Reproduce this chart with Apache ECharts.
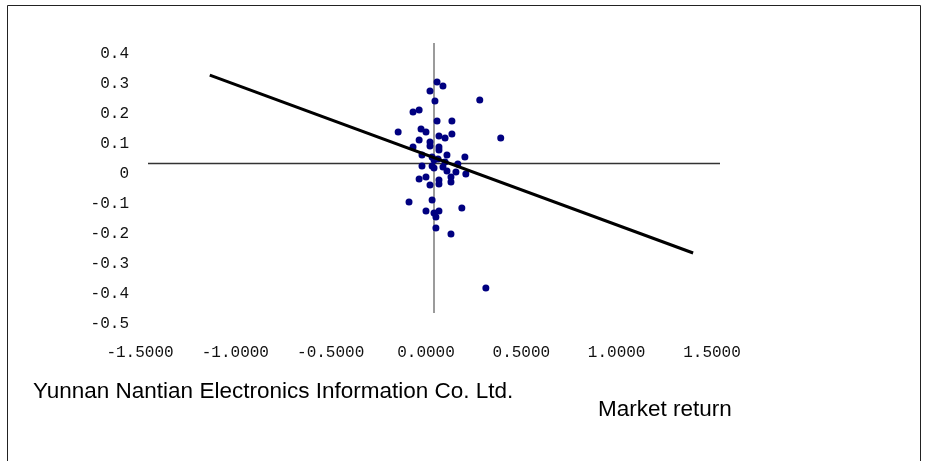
<!DOCTYPE html>
<html>
<head>
<meta charset="utf-8">
<script src="https://cdn.jsdelivr.net/npm/echarts@6/dist/echarts.min.js"></script>
<style>html,body{margin:0;padding:0;background:#fff}#c{width:934px;height:461px}</style>
</head>
<body>
<div id="c"></div>
<script>
// Scatter: market return (x) vs stock return (y)
const marketReturn = [0.016,0.047,-0.021,0.005,0.240,-0.110,-0.078,0.016,0.094,-0.188,-0.068,-0.042,0.094,0.026,0.058,0.350,-0.078,-0.021,-0.021,0.026,-0.110,0.026,0.068,0.162,-0.063,-0.010,0.021,0.000,0.125,0.058,-0.063,-0.010,0.000,0.047,0.068,0.115,0.167,-0.078,-0.042,0.026,0.089,-0.021,0.026,0.089,-0.131,-0.010,-0.042,0.000,0.026,0.010,0.146,0.010,0.089,0.272];
const stockReturn  = [0.270,0.257,0.240,0.207,0.210,0.170,0.177,0.140,0.140,0.103,0.113,0.103,0.097,0.090,0.083,0.083,0.077,0.070,0.057,0.053,0.053,0.043,0.027,0.020,0.027,0.020,0.013,0.010,-0.003,0.003,-0.010,-0.010,-0.017,-0.013,-0.027,-0.030,-0.037,-0.053,-0.047,-0.057,-0.047,-0.073,-0.070,-0.063,-0.130,-0.123,-0.160,-0.167,-0.160,-0.180,-0.150,-0.217,-0.237,-0.417];
// Fitted regression line endpoints
const fitX = [-1.176, 1.359];
const fitY = [0.293, -0.300];
// Axis settings
const xMin = -1.5, xMax = 1.5, xStep = 0.5;
const yMin = -0.5, yMax = 0.4, yStep = 0.1;
const companyName = 'Yunnan Nantian Electronics Information Co. Ltd.';
const xAxisTitle = 'Market return';

const chart = echarts.init(document.getElementById('c'), null, {renderer:'canvas'});
const labelFont = {fontFamily:'Liberation Mono', fontSize:16, color:'#111'};
chart.setOption({
  animation:false,
  backgroundColor:'#fff',
  grid:{left:148, right:214, top:43, bottom:148},
  xAxis:{type:'value', min:xMin, max:xMax, interval:xStep,
    axisLine:{show:false}, axisTick:{show:false}, splitLine:{show:false},
    axisLabel:Object.assign({margin:32, padding:[0,16,0,0], formatter:v=>v.toFixed(4)}, labelFont)},
  yAxis:{type:'value', min:yMin, max:yMax, interval:yStep,
    axisLine:{show:false}, axisTick:{show:false}, splitLine:{show:false},
    axisLabel:Object.assign({margin:19, verticalAlign:'top', lineHeight:22, formatter:v=>Math.abs(v)<1e-9?'0':v.toFixed(1)}, labelFont)},
  series:[
    {type:'scatter', data:marketReturn.map((x,i)=>[x,stockReturn[i]]), symbolSize:7,
     itemStyle:{color:'#000080', opacity:1}, z:3,
     markLine:{silent:true, symbol:'none', label:{show:false}, z:1,
       data:[{xAxis:0, lineStyle:{color:'#7a7a7a', width:1.5, type:'solid'}},
             {yAxis:0, lineStyle:{color:'#333', width:1.3, type:'solid'}}]}},
    {type:'line', data:fitX.map((x,i)=>[x,fitY[i]]), symbol:'none', z:4,
     lineStyle:{color:'#000', width:3}}
  ],
  graphic:[
    {type:'rect', shape:{x:7.5, y:5.5, width:913, height:480}, style:{fill:'none', stroke:'#222', lineWidth:1}},
    {type:'text', x:33, y:392, style:{text:companyName, font:'22.5px "Liberation Sans"', fill:'#000', verticalAlign:'middle'}},
    {type:'text', x:598, y:410, style:{text:xAxisTitle, font:'22.5px "Liberation Sans"', fill:'#000', verticalAlign:'middle'}}
  ]
});
</script>
</body>
</html>
